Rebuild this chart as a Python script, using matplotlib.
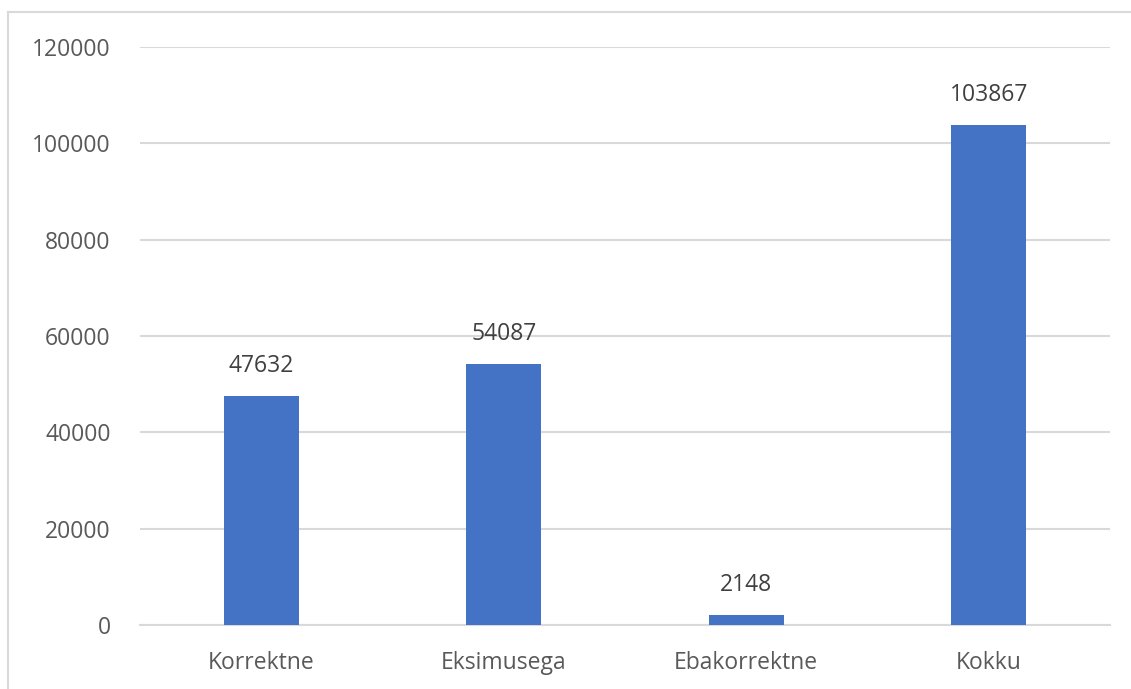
import matplotlib.pyplot as plt
from matplotlib.lines import Line2D

categories = ['Korrektne', 'Eksimusega', 'Ebakorrektne', 'Kokku']
values = [47632, 54087, 2148, 103867]
y_ticks = [0, 20000, 40000, 60000, 80000, 100000, 120000]

plt.rcParams['font.family'] = ['Open Sans', 'DejaVu Sans']

fig = plt.figure(figsize=(11.31, 6.89), dpi=100)
ax = fig.add_axes([140 / 1131, 1 - 625 / 689, 970 / 1131, 578 / 689])

x = list(range(len(categories)))
bars = ax.bar(x, values, width=0.31, color='#4472C4', zorder=3)

for xi, v in zip(x, values):
    ax.annotate(str(v), (xi, v), xytext=(0, 13), textcoords='offset points',
                ha='center', va='bottom', fontsize=16.5, color='#404040')

ax.set_xlim(-0.5, len(categories) - 0.5)
ax.set_ylim(0, 120000)
ax.set_yticks(y_ticks)
ax.set_yticklabels([str(t) for t in y_ticks])
ax.set_xticks(x)
ax.set_xticklabels(categories)
ax.tick_params(axis='both', length=0, labelsize=16.5, labelcolor='#595959')
ax.tick_params(axis='y', pad=21)
ax.tick_params(axis='x', pad=19)

ax.grid(axis='y', color='#d9d9d9', linewidth=1.5, zorder=0)
for side in ['top', 'right', 'left']:
    ax.spines[side].set_visible(False)
ax.spines['bottom'].set_color('#d9d9d9')
ax.spines['bottom'].set_linewidth(1.5)

# chart border (top and left edges visible in the reference)
fig.add_artist(Line2D([8 / 1131, 1], [1 - 12 / 689, 1 - 12 / 689],
                      transform=fig.transFigure, color='#d9d9d9', linewidth=1.5))
fig.add_artist(Line2D([8 / 1131, 8 / 1131], [0, 1 - 12 / 689],
                      transform=fig.transFigure, color='#d9d9d9', linewidth=1.5))

fig.savefig('out.png', dpi=100)
